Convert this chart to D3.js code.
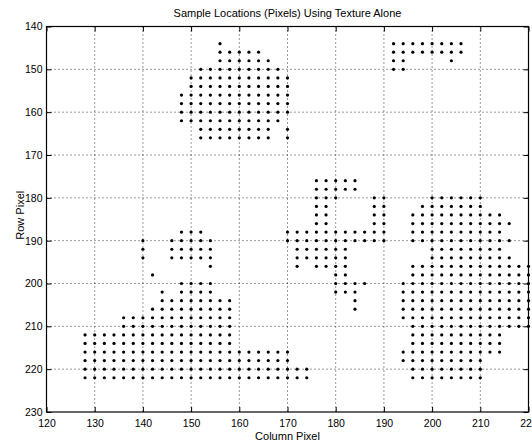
<!DOCTYPE html>
<html>
<head>
<meta charset="utf-8">
<script src="https://cdn.jsdelivr.net/npm/d3@7"></script>
<style>
  body { margin: 0; background: #fff; }
  svg { display: block; font-family: "Liberation Sans", Arial, Helvetica, sans-serif; }
</style>
</head>
<body>
<div id="chart"></div>
<script>
// 每行的采样列 (行像素, [列像素...])
const topLeftBlob = [
  [144, [156]],
  [146, [156, 158, 160, 162, 164]],
  [148, [156, 158, 160, 162, 164, 166]],
  [150, [152, 154, 156, 158, 160, 162, 164, 166, 168]],
  [152, [150, 152, 154, 156, 158, 160, 162, 164, 166, 168, 170]],
  [154, [150, 152, 154, 156, 158, 160, 162, 164, 166, 168, 170]],
  [156, [148, 150, 152, 154, 156, 158, 160, 162, 164, 166, 168, 170]],
  [158, [148, 150, 152, 154, 156, 158, 160, 162, 164, 166, 168, 170]],
  [160, [148, 150, 152, 154, 156, 158, 160, 162, 164, 166, 168, 170]],
  [162, [148, 150, 152, 154, 156, 158, 160, 162, 164, 166, 168]],
  [164, [152, 154, 156, 158, 160, 162, 164, 166, 170]],
  [166, [152, 154, 156, 158, 160, 162, 164, 166, 170]]
];

const topRightBlob = [
  [144, [192, 194, 196, 198, 200, 202, 204, 206]],
  [146, [192, 194, 196, 198, 200, 202, 204, 206]],
  [148, [192, 194, 204]],
  [150, [192, 194]]
];

const middleBlob = [
  [176, [176, 178, 180, 182, 184]],
  [178, [176, 178, 180, 182, 184]],
  [180, [176, 178, 180, 188, 190]],
  [182, [176, 178, 188, 190]],
  [184, [176, 178, 188, 190]],
  [186, [176, 178, 188, 190]],
  [188, [170, 172, 174, 176, 178, 180, 182, 184, 186, 188, 190]],
  [190, [170, 172, 174, 176, 178, 180, 182, 184, 186, 188, 190]],
  [192, [172, 174, 176, 178, 180, 182]],
  [194, [172, 174, 176, 178, 180, 182]],
  [196, [172, 176, 178, 180, 182]],
  [198, [180, 182]],
  [200, [180, 182, 184, 186]],
  [202, [180, 182, 184]],
  [204, [184]],
  [206, [184]]
];

const rightBlob = [
  [180, [200, 202, 204, 206, 208, 210]],
  [182, [198, 200, 202, 204, 206, 208, 210]],
  [184, [196, 198, 200, 202, 204, 206, 208, 210, 212, 214]],
  [186, [196, 198, 200, 202, 204, 206, 208, 210, 212, 214, 216]],
  [188, [196, 198, 200, 202, 204, 206, 208, 210, 212, 214]],
  [190, [196, 198, 200, 202, 204, 206, 208, 210, 212, 214, 216]],
  [192, [200, 202, 204, 206, 208, 210, 212, 214]],
  [194, [200, 202, 204, 206, 208, 210, 212, 214, 216]],
  [196, [196, 198, 200, 202, 204, 206, 208, 210, 212, 214, 216, 218, 220]],
  [198, [196, 198, 200, 202, 204, 206, 208, 210, 212, 214, 216, 218, 220]],
  [200, [194, 196, 198, 200, 202, 204, 206, 208, 210, 212, 214, 216, 218, 220]],
  [202, [194, 196, 198, 200, 202, 204, 206, 208, 210, 212, 214, 216, 218, 220]],
  [204, [194, 196, 198, 200, 202, 204, 206, 208, 210, 212, 214, 216, 218, 220]],
  [206, [194, 196, 198, 200, 202, 204, 206, 208, 210, 212, 214, 216, 218, 220]],
  [208, [194, 196, 198, 200, 202, 204, 206, 208, 210, 212, 214, 216, 218, 220]],
  [210, [196, 198, 200, 202, 204, 206, 208, 210, 212, 214, 216, 218, 220]],
  [212, [196, 198, 200, 202, 204, 206, 208, 210, 212, 214]],
  [214, [196, 198, 200, 202, 204, 206, 208, 210, 212, 214]],
  [216, [194, 196, 198, 200, 202, 204, 206, 208, 210, 212, 214]],
  [218, [194, 196, 198, 200, 202, 204, 206, 208, 210]],
  [220, [196, 198, 200, 202, 204, 206, 208, 210]],
  [222, [196, 198, 200, 202, 204, 206, 208, 210]]
];

const lowerLeftBlob = [
  [188, [148, 150, 152]],
  [190, [140, 146, 148, 150, 152, 154]],
  [192, [140, 146, 148, 150, 152, 154]],
  [194, [140, 146, 148, 150, 152, 154]],
  [196, [154]],
  [198, [142]],
  [200, [148, 150, 152, 154]],
  [202, [144, 148, 150, 152, 154]],
  [204, [144, 146, 148, 150, 152, 154, 156, 158]],
  [206, [142, 144, 146, 148, 150, 152, 154, 156, 158]],
  [208, [136, 138, 140, 142, 144, 146, 148, 150, 152, 154, 156, 158]],
  [210, [136, 138, 140, 142, 144, 146, 148, 150, 152, 154, 156, 158]],
  [212, [128, 130, 132, 134, 136, 138, 140, 142, 144, 146, 148, 150, 152, 154, 156, 158]],
  [214, [128, 130, 132, 134, 136, 138, 140, 142, 144, 146, 148, 150, 152, 154, 156, 158]],
  [216, [128, 130, 132, 134, 136, 138, 140, 142, 144, 146, 148, 150, 152, 154, 156, 158, 160, 162, 164, 166, 168, 170]],
  [218, [128, 130, 132, 134, 136, 138, 140, 142, 144, 146, 148, 150, 152, 154, 156, 158, 160, 162, 164, 166, 168, 170]],
  [220, [128, 130, 132, 134, 136, 138, 140, 142, 144, 146, 148, 150, 152, 154, 156, 158, 160, 162, 164, 166, 168, 170, 172, 174]],
  [222, [128, 130, 132, 134, 136, 138, 140, 142, 144, 146, 148, 150, 152, 154, 156, 158, 160, 162, 164, 166, 168, 170, 172, 174]]
];

const xTicks = [120, 130, 140, 150, 160, 170, 180, 190, 200, 210, 220];
const yTicks = [140, 150, 160, 170, 180, 190, 200, 210, 220, 230];

const titleText = 'Sample Locations (Pixels) Using Texture Alone';
const xLabel = 'Column Pixel';
const yLabel = 'Row Pixel';

const width = 532;
const height = 445;
const margin = { top: 26.5, right: 3.5, bottom: 33, left: 46.5 };

const svg = d3.select('#chart')
  .append('svg')
  .attr('width', width)
  .attr('height', height);

const xScale = d3.scaleLinear()
  .domain([120, 220])
  .range([margin.left, width - margin.right]);

const yScale = d3.scaleLinear()
  .domain([140, 230])
  .range([margin.top, height - margin.bottom]);

// 网格线 (点线)
const grid = svg.append('g').attr('class', 'grid');
grid.selectAll('.vgrid')
  .data(xTicks.slice(1, -1))
  .enter().append('line')
  .attr('x1', d => xScale(d)).attr('x2', d => xScale(d))
  .attr('y1', yScale(140)).attr('y2', yScale(230))
  .attr('stroke', '#000').attr('stroke-width', 0.8)
  .attr('stroke-dasharray', '1,3');
grid.selectAll('.hgrid')
  .data(yTicks.slice(1, -1))
  .enter().append('line')
  .attr('y1', d => yScale(d)).attr('y2', d => yScale(d))
  .attr('x1', xScale(120)).attr('x2', xScale(220))
  .attr('stroke', '#000').attr('stroke-width', 0.8)
  .attr('stroke-dasharray', '1,3');

// 坐标轴 (刻度朝内)
const tickFont = '10.5px';
const labelFont = '11px';
const xAxisBottom = svg.append('g')
  .attr('transform', `translate(0,${yScale(230)})`)
  .call(d3.axisBottom(xScale).tickValues(xTicks).tickSizeInner(-5).tickSizeOuter(0).tickPadding(8));
const xAxisTop = svg.append('g')
  .attr('transform', `translate(0,${yScale(140)})`)
  .call(d3.axisTop(xScale).tickValues(xTicks).tickSizeInner(-5).tickSizeOuter(0).tickFormat(''));
const yAxisLeft = svg.append('g')
  .attr('transform', `translate(${xScale(120)},0)`)
  .call(d3.axisLeft(yScale).tickValues(yTicks).tickSizeInner(-5).tickSizeOuter(0).tickPadding(4));
const yAxisRight = svg.append('g')
  .attr('transform', `translate(${xScale(220)},0)`)
  .call(d3.axisRight(yScale).tickValues(yTicks).tickSizeInner(-5).tickSizeOuter(0).tickFormat(''));

[xAxisBottom, xAxisTop, yAxisLeft, yAxisRight].forEach(g => {
  g.select('.domain').remove();
  g.selectAll('line').attr('stroke', '#000').attr('stroke-width', 1);
  g.selectAll('text').attr('fill', '#000').style('font-size', tickFont)
    .style('font-family', '"Liberation Sans", Arial, sans-serif');
});

// 边框
svg.append('rect')
  .attr('x', xScale(120)).attr('y', yScale(140))
  .attr('width', xScale(220) - xScale(120))
  .attr('height', yScale(230) - yScale(140))
  .attr('fill', 'none').attr('stroke', '#000').attr('stroke-width', 1.2);

// 采样点
const blobs = [topLeftBlob, topRightBlob, middleBlob, rightBlob, lowerLeftBlob];
const points = [];
blobs.forEach(blob => blob.forEach(([row, cols]) => cols.forEach(col => points.push([col, row]))));

svg.append('g').attr('class', 'samples')
  .selectAll('circle')
  .data(points)
  .enter().append('circle')
  .attr('cx', d => xScale(d[0]))
  .attr('cy', d => yScale(d[1]))
  .attr('r', 1.6)
  .attr('fill', '#000');

// 标题与轴标签
svg.append('text')
  .attr('x', (xScale(120) + xScale(220)) / 2)
  .attr('y', 17)
  .attr('text-anchor', 'middle')
  .style('font-size', labelFont)
  .text(titleText);

svg.append('text')
  .attr('x', (xScale(120) + xScale(220)) / 2)
  .attr('y', 440)
  .attr('text-anchor', 'middle')
  .style('font-size', labelFont)
  .text(xLabel);

svg.append('text')
  .attr('transform', `translate(24,${(yScale(140) + yScale(230)) / 2 - 4}) rotate(-90)`)
  .attr('text-anchor', 'middle')
  .style('font-size', labelFont)
  .text(yLabel);
</script>
</body>
</html>
